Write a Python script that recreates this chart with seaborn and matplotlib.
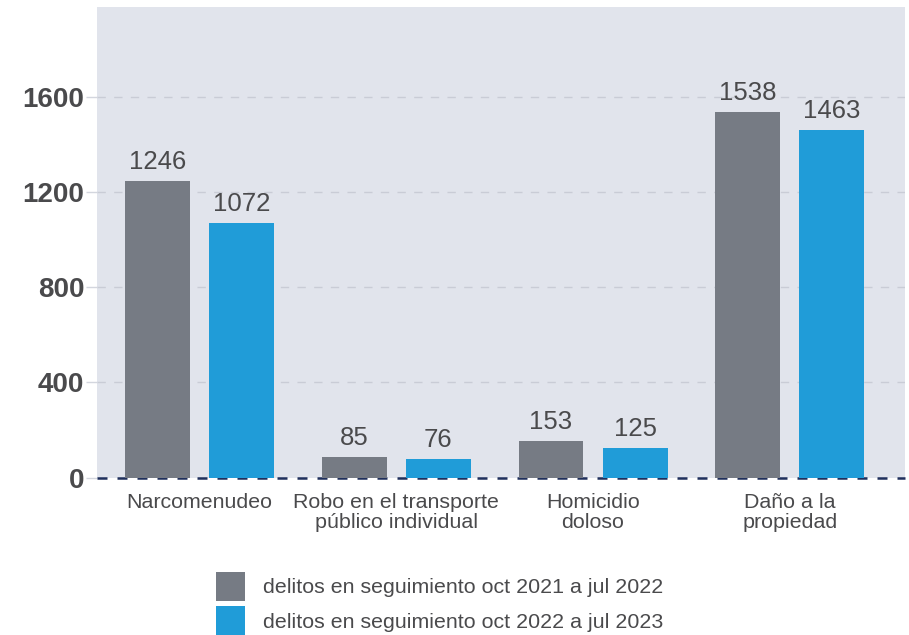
import matplotlib
matplotlib.use("Agg")
import matplotlib.pyplot as plt
import pandas as pd
import seaborn as sns

# Delitos en seguimiento por tipo, dos periodos
categorias = [
    "Narcomenudeo",
    "Robo en el transporte\npúblico individual",
    "Homicidio\ndoloso",
    "Daño a la\npropiedad",
]
series = [
    "delitos en seguimiento oct 2021 a jul 2022",
    "delitos en seguimiento oct 2022 a jul 2023",
]
valores_2021_2022 = [1246, 85, 153, 1538]
valores_2022_2023 = [1072, 76, 125, 1463]
ticks_y = [0, 400, 800, 1200, 1600]

colores = ["#767b84", "#209cd8"]
texto = "#4a4a4c"
fondo = "#e1e4ec"

df = pd.DataFrame({
    "categoria": categorias * 2,
    "serie": [series[0]] * 4 + [series[1]] * 4,
    "valor": valores_2021_2022 + valores_2022_2023,
})

plt.rcParams["font.family"] = ["Liberation Sans", "DejaVu Sans"]

fig = plt.figure(figsize=(9.09, 6.35), dpi=100)
ax = fig.add_axes([97 / 909, 1 - 477.5 / 635, (905 - 97) / 909, (477.5 - 7) / 635])
ax.set_facecolor(fondo)

sns.barplot(data=df, x="categoria", y="valor", hue="serie", order=categorias,
            hue_order=series, palette=colores, width=0.854, gap=0.227,
            saturation=1, ax=ax, zorder=3)

handles, labels = ax.get_legend_handles_labels()
if ax.get_legend() is not None:
    ax.get_legend().remove()

for cont in ax.containers:
    ax.bar_label(cont, fmt="%d", padding=5, fontsize=18.5, color=texto, zorder=4)

ax.set_xlim(-0.52, 3.585)
ax.set_ylim(0, 1980)
ax.set_yticks(ticks_y)
ax.set_yticklabels([str(t) for t in ticks_y], fontsize=20, fontweight="bold", color=texto)

# Rejilla discontinua y línea base
for t in ticks_y[1:]:
    ax.axhline(t, color="#c9ccd6", lw=1.0, ls=(0, (6, 6)), zorder=1)
ax.axhline(0, color="#1f2f5c", lw=1.8, ls=(0, (4, 4)), zorder=2, clip_on=False)

ax.tick_params(axis="y", length=8, width=1, color="#d3d6de", pad=1)
ax.tick_params(axis="x", length=0, pad=11, labelsize=15.4, labelcolor=texto)
for lab in ax.get_xticklabels():
    lab.set_linespacing(1.1)

ax.set_xlabel("")
ax.set_ylabel("")
for s in ax.spines.values():
    s.set_visible(False)

fig.legend(handles, labels, loc="upper left",
           bbox_to_anchor=(216 / 909, 1 - 572 / 635), bbox_transform=fig.transFigure,
           frameon=False, fontsize=15.4, labelcolor=texto, handlelength=1.36,
           handleheight=1.7, handletextpad=0.85, labelspacing=0.25,
           borderpad=0, borderaxespad=0)

fig.savefig("out.png", dpi=100, facecolor="white")
